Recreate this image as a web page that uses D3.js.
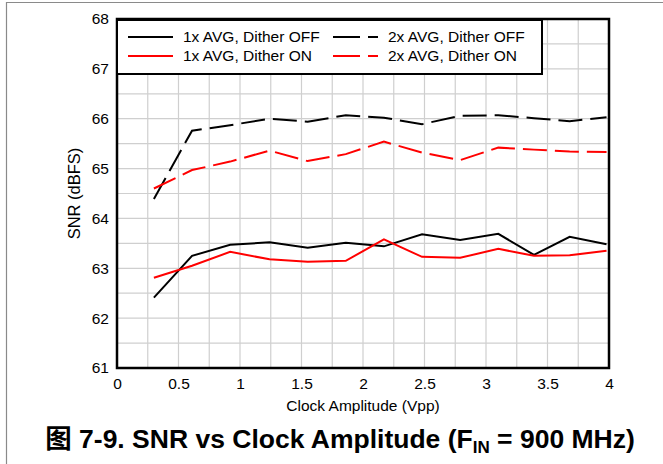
<!DOCTYPE html>
<html>
<head>
<meta charset="utf-8">
<script src="https://d3js.org/d3.v7.min.js"></script>
<style>
  body { margin: 0; background: #fff; }
  text { font-family: "Liberation Sans", Arial, sans-serif; fill: #000; }
  .tick text { font-size: 15.5px; }
  .axislabel { font-size: 15.5px; }
  .ylabel { font-size: 16.5px; }
  .legend text { font-size: 15.5px; }
  .title { font-size: 26.5px; font-weight: bold; }
</style>
</head>
<body>
<script>
// data
var clockVpp = [0.3, 0.61, 0.92, 1.24, 1.55, 1.86, 2.17, 2.48, 2.79, 3.1, 3.39, 3.68, 3.98];
var snr1xOff = [62.41, 63.25, 63.47, 63.52, 63.41, 63.51, 63.44, 63.68, 63.57, 63.69, 63.27, 63.63, 63.48];
var snr1xOn  = [62.81, 63.05, 63.33, 63.18, 63.13, 63.15, 63.58, 63.23, 63.21, 63.39, 63.25, 63.26, 63.35];
var snr2xOff = [64.39, 65.76, 65.87, 66.0, 65.94, 66.07, 66.02, 65.89, 66.06, 66.07, 66.01, 65.95, 66.03];
var snr2xOn  = [64.6, 64.97, 65.14, 65.36, 65.15, 65.29, 65.54, 65.32, 65.17, 65.42, 65.38, 65.34, 65.33];
var seriesNames = ["1x AVG, Dither OFF", "1x AVG, Dither ON", "2x AVG, Dither OFF", "2x AVG, Dither ON"];
var xTicks = [0, 0.5, 1, 1.5, 2, 2.5, 3, 3.5, 4];
var yTicks = [61, 62, 63, 64, 65, 66, 67, 68];

var W = 663, H = 464;
var pL = 117, pR = 609, pT = 19, pB = 368;

var svg = d3.select("body").append("svg").attr("width", W).attr("height", H);

// outer frame (top and left edges only)
svg.append("path")
  .attr("d", "M6.5," + H + " V2.5 H" + W)
  .attr("fill", "none").attr("stroke", "#8a8a8a").attr("stroke-width", 1.2);

var x = d3.scaleLinear().domain([0, 4]).range([pL, pR]);
var y = d3.scaleLinear().domain([61, 68]).range([pB, pT]);

// grid
var grid = svg.append("g");
grid.selectAll(".vg").data(d3.range(0.25, 4, 0.25)).enter().append("line")
  .attr("x1", function(d) { return x(d); }).attr("x2", function(d) { return x(d); })
  .attr("y1", pT).attr("y2", pB)
  .attr("stroke", "#cfcfcf").attr("stroke-width", 1.2);
grid.selectAll(".hg").data(d3.range(61.5, 68, 0.5)).enter().append("line")
  .attr("y1", function(d) { return y(d); }).attr("y2", function(d) { return y(d); })
  .attr("x1", pL).attr("x2", pR)
  .attr("stroke", "#cfcfcf").attr("stroke-width", 1.2);

// axes
var xAxis = svg.append("g").attr("transform", "translate(0," + pB + ")")
  .call(d3.axisBottom(x).tickValues(xTicks).tickSize(0).tickPadding(10).tickFormat(d3.format("")));
var yAxis = svg.append("g").attr("transform", "translate(" + pL + ",0)")
  .call(d3.axisLeft(y).tickValues(yTicks).tickSize(0).tickPadding(8).tickFormat(d3.format("d")));
xAxis.select(".domain").remove();
yAxis.select(".domain").remove();
xAxis.selectAll("text").attr("font-family", null).attr("font-size", null);
yAxis.selectAll("text").attr("font-family", null).attr("font-size", null);

// series
var line = d3.line()
  .x(function(d) { return x(d[0]); })
  .y(function(d) { return y(d[1]); });
var series = [
  { name: seriesNames[0], vals: snr1xOff, color: "#000", dash: null },
  { name: seriesNames[1], vals: snr1xOn, color: "#ff0000", dash: null },
  { name: seriesNames[2], vals: snr2xOff, color: "#000", dash: "24,8" },
  { name: seriesNames[3], vals: snr2xOn, color: "#ff0000", dash: "24,8" }
];
svg.append("clipPath").attr("id", "plotclip").append("rect")
  .attr("x", pL).attr("y", pT).attr("width", pR - pL).attr("height", pB - pT);
svg.append("g").attr("clip-path", "url(#plotclip)")
  .selectAll("path").data(series).enter().append("path")
  .attr("d", function(s) { return line(d3.zip(clockVpp, s.vals)); })
  .attr("fill", "none")
  .attr("stroke", function(s) { return s.color; })
  .attr("stroke-width", 2)
  .attr("stroke-dasharray", function(s) { return s.dash; });

// plot border
svg.append("rect")
  .attr("x", pL).attr("y", pT).attr("width", pR - pL).attr("height", pB - pT)
  .attr("fill", "none").attr("stroke", "#000").attr("stroke-width", 2.5);

// legend
var legend = svg.append("g").classed("legend", true);
legend.append("rect")
  .attr("x", pL).attr("y", pT + 1).attr("width", 425).attr("height", 54)
  .attr("fill", "#fff").attr("stroke", "#000").attr("stroke-width", 2);
var legPos = [[128, 37], [128, 56], [333, 37], [333, 56]];
series.forEach(function(s, i) {
  var p = legPos[i];
  legend.append("line")
    .attr("x1", p[0]).attr("x2", p[0] + 45).attr("y1", p[1]).attr("y2", p[1])
    .attr("stroke", s.color).attr("stroke-width", 2)
    .attr("stroke-dasharray", s.dash ? "27,8" : null);
  legend.append("text")
    .attr("x", p[0] + 55).attr("y", p[1] + 5)
    .text(s.name);
});

// axis labels
svg.append("text").classed("axislabel", true)
  .attr("x", 363).attr("y", 411)
  .attr("text-anchor", "middle")
  .text("Clock Amplitude (Vpp)");
svg.append("text").classed("ylabel", true)
  .attr("transform", "translate(80," + (pT + pB) / 2 + ") rotate(-90)")
  .attr("text-anchor", "middle")
  .text("SNR (dBFS)");

// title
var title = svg.append("text").classed("title", true)
  .attr("x", 340).attr("y", 448).attr("text-anchor", "middle");
title.append("tspan").style("font-family", "'Noto Sans CJK SC'").text("图");
title.append("tspan").text(" 7-9. SNR vs Clock Amplitude (F");
title.append("tspan").attr("dy", 5).style("font-size", "17px").text("IN");
title.append("tspan").attr("dy", -5).text(" = 900 MHz)");
</script>
</body>
</html>
